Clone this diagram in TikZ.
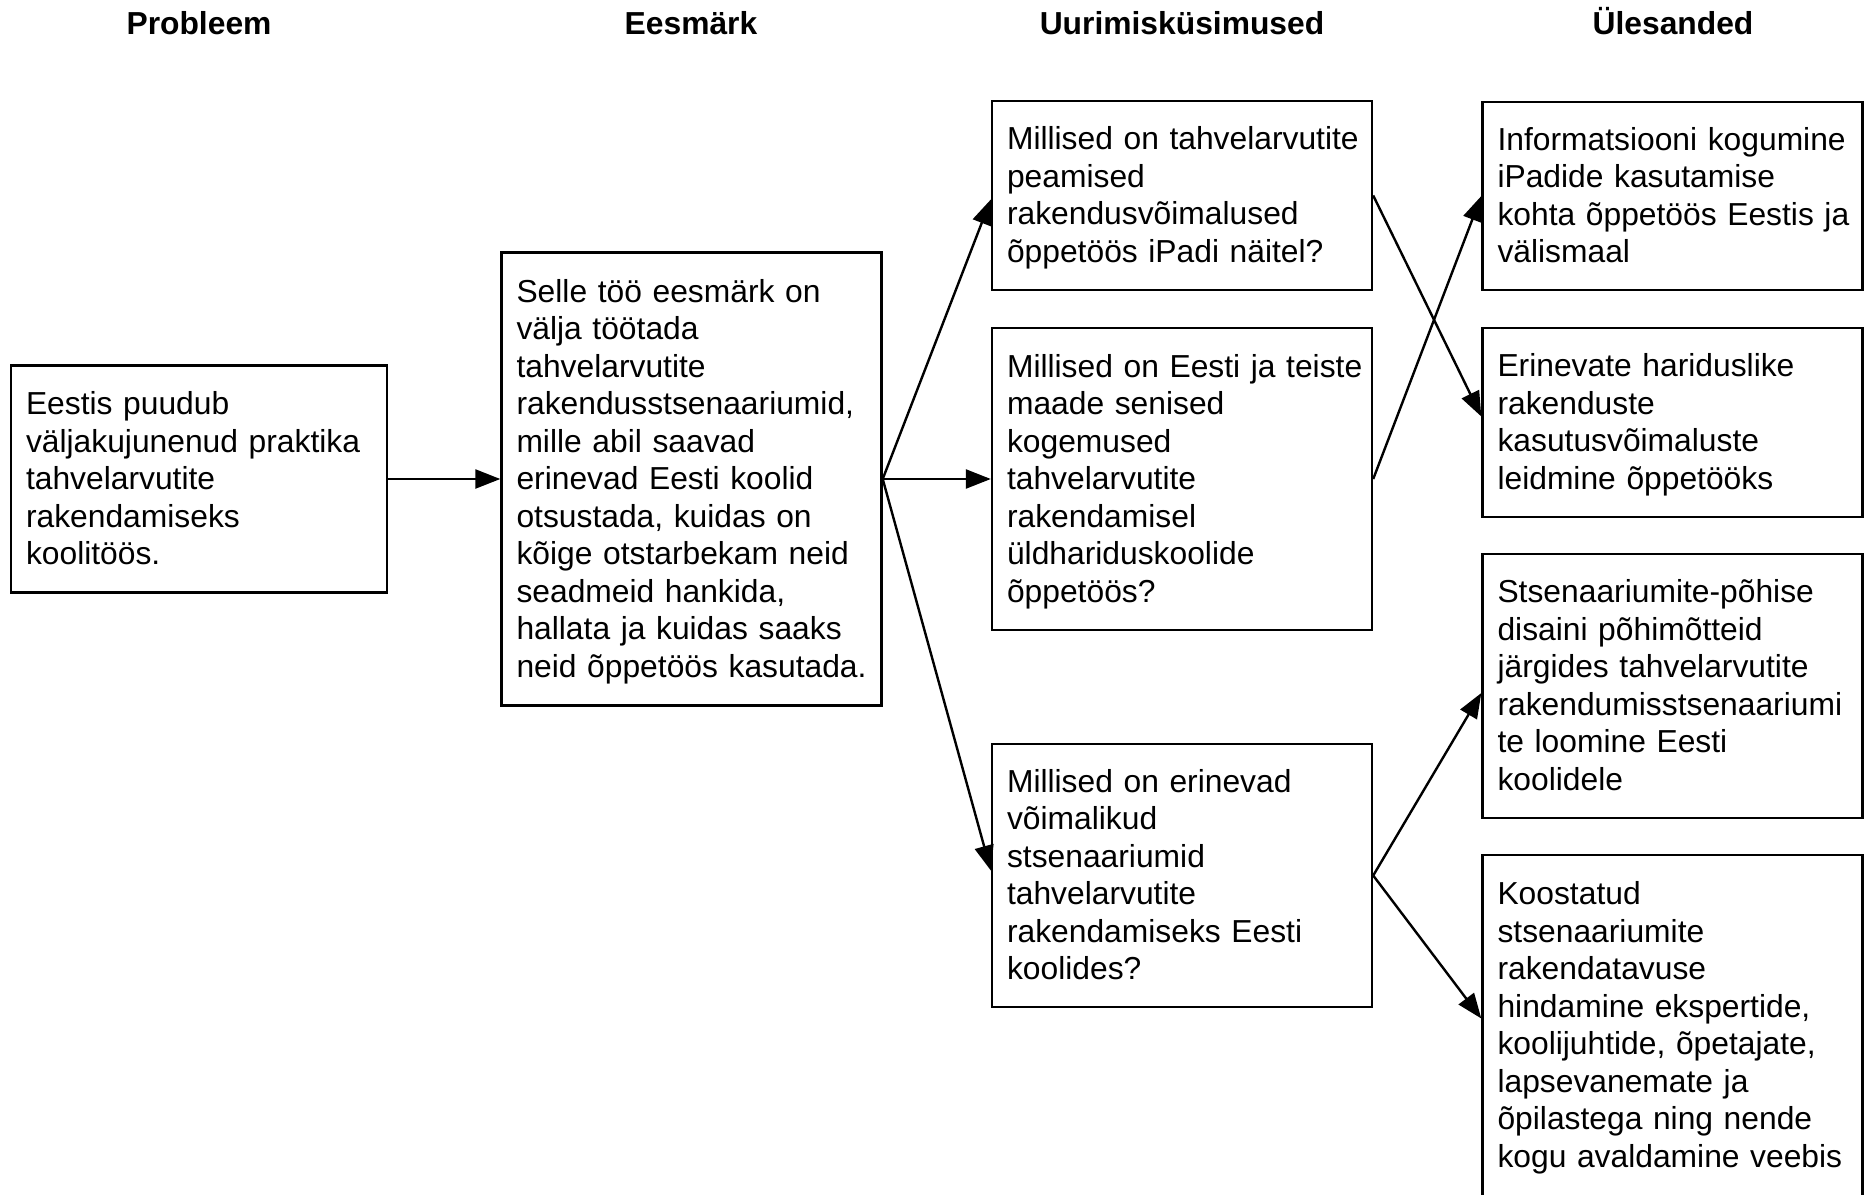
\documentclass[tikz,border=0pt]{standalone}
\usepackage{fontspec}
\setmainfont{Liberation Sans}
\usetikzlibrary{arrows.meta}

\newcommand{\boxlines}[1]{\noindent\raisebox{-1.5pt}[\height][\depth]{\begin{tabular}{@{}l@{}}#1\end{tabular}}}

\begin{document}
\begin{tikzpicture}[x=0.5pt, y=-0.5pt,
  every node/.style={font=\fontsize{15.9}{18.75}\selectfont},
  box/.style={draw, line width=1.2pt, text width=175pt, inner xsep=7.5pt, inner ysep=0pt},
  head/.style={font=\fontsize{15.9}{18.75}\selectfont\bfseries, anchor=base},
  arr/.style={line width=1.2pt, -{Triangle[length=12.5pt, width=9.5pt]}}]
  \useasboundingbox (0,0) rectangle (1867,1194);

  % column titles
  \node[head] (hprob) at (199,34) {Probleem};
  \node[head] (hgoal) at (691,34) {Eesmärk};
  \node[head] (hquest) at (1182,34) {Uurimisküsimused};
  \node[head] (htask) at (1673,34) {Ülesanded};

  % problem and goal
  \node[box, text width=173pt, minimum height=113.5pt] (prob) at (199,479)
    {\boxlines{Eestis puudub\\ väljakujunenud praktika\\ tahvelarvutite\\ rakendamiseks\\ koolitöös.}};
  \node[box, minimum height=226.5pt] (goal) at (691.5,479)
    {\boxlines{Selle töö eesmärk on\\ välja töötada\\ tahvelarvutite\\ rakendusstsenaariumid,\\ mille abil saavad\\ erinevad Eesti koolid\\ otsustada, kuidas on\\ kõige otstarbekam neid\\ seadmeid hankida,\\ hallata ja kuidas saaks\\ neid õppetöös kasutada.}};

  % research questions
  \node[box, minimum height=94.5pt] (q1) at (1182,195.5)
    {\boxlines{Millised on tahvelarvutite\\ peamised\\ rakendusvõimalused\\ õppetöös iPadi näitel?}};
  \node[box, minimum height=151pt] (q2) at (1182,479)
    {\boxlines{Millised on Eesti ja teiste\\ maade senised\\ kogemused\\ tahvelarvutite\\ rakendamisel\\ üldhariduskoolide\\ õppetöös?}};
  \node[box, minimum height=131.5pt] (q3) at (1182,875.5)
    {\boxlines{Millised on erinevad\\ võimalikud\\ stsenaariumid\\ tahvelarvutite\\ rakendamiseks Eesti\\ koolides?}};

  % tasks
  \node[box, minimum height=94pt] (t1) at (1672.5,196)
    {\boxlines{Informatsiooni kogumine\\ iPadide kasutamise\\ kohta õppetöös Eestis ja\\ välismaal}};
  \node[box, minimum height=94.5pt] (t2) at (1672.5,422.5)
    {\boxlines{Erinevate hariduslike\\ rakenduste\\ kasutusvõimaluste\\ leidmine õppetööks}};
  \node[box, minimum height=132pt] (t3) at (1672.5,686)
    {\boxlines{Stsenaariumite-põhise\\ disaini põhimõtteid\\ järgides tahvelarvutite\\ rakendumisstsenaariumi\\ te loomine Eesti\\ koolidele}};
  \node[box, minimum height=170.5pt] (t4) at (1672.5,1025.5)
    {\boxlines{Koostatud\\ stsenaariumite\\ rakendatavuse\\ hindamine ekspertide,\\ koolijuhtide, õpetajate,\\ lapsevanemate ja\\ õpilastega ning nende\\ kogu avaldamine veebis}};

  % connectors
  \draw[arr] (prob.east) -- (goal.west);
  \draw[arr] (goal.east) -- ([yshift=-2pt]q1.west);
  \draw[arr] (goal.east) -- (q2.west);
  \draw[arr] (goal.east) -- ([yshift=2.5pt]q3.west);
  \draw[arr] (q1.east) -- ([yshift=3pt]t2.west);
  \draw[arr] (q2.east) -- (t1.west);
  \draw[arr] (q3.east) -- ([yshift=-3.5pt]t3.west);
  \draw[arr] (q3.east) -- ([yshift=3.5pt]t4.west);
\end{tikzpicture}
\end{document}
